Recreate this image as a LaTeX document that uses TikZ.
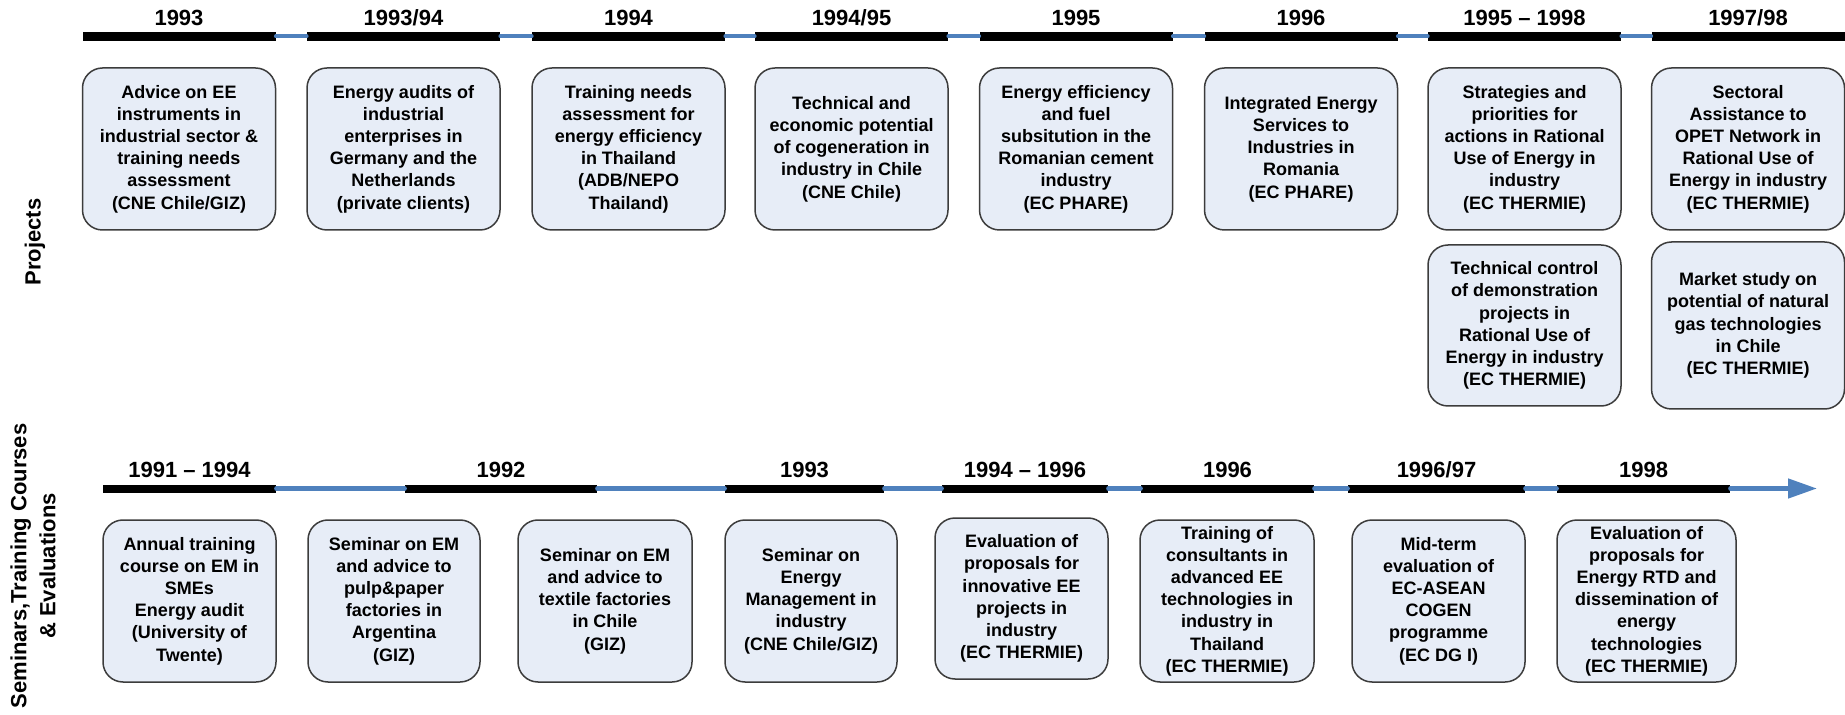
\documentclass[tikz,border=0pt]{standalone}
\usepackage{fontspec}
\setmainfont{Liberation Sans}
\usetikzlibrary{arrows.meta}
\definecolor{boxfill}{RGB}{231,237,247}
\definecolor{boxline}{RGB}{60,60,60}
\definecolor{connblue}{RGB}{79,129,189}
\newcommand\bxfont{\fontsize{9}{11.1}\selectfont\bfseries}
\newcommand\yrfont{\fontsize{11}{13}\selectfont\bfseries}
\newcommand\sidefont{\fontsize{11}{14.5}\selectfont\bfseries}
\tikzset{
  box/.style n args={2}{draw=boxline, fill=boxfill, rounded corners=10pt, line width=0.75pt,
     align=center, inner sep=0pt, font=\bxfont, minimum width=#1, minimum height=#2},
  tseg/.style={fill=black, inner sep=0pt, minimum height=4.5pt, minimum width=#1},
  bseg/.style={fill=black, inner sep=0pt, minimum height=4pt, minimum width=#1},
  yr/.style={font=\yrfont, anchor=base, inner sep=0pt},
  tconn/.style={draw=connblue, line width=2pt, line cap=round},
  bconn/.style={draw=connblue, line width=2.25pt, line cap=round},
  side/.style={font=\sidefont, rotate=90, align=center, inner sep=0pt},
}
\begin{document}
\begin{tikzpicture}[x=0.5pt, y=-0.5pt]
\useasboundingbox (0,0) rectangle (1845,715);
\fill[white] (0,0) rectangle (1845,715);

% side labels
\node[side] (lproj) at (35,242) {Projects};
\node[side] (lsem) at (33,566) {Seminars,Training Courses\\\& Evaluations};

% ---------- top timeline ----------
\node[tseg=96.5pt] (t1) at (179,36.5) {};
\node[tseg=96.5pt] (t2) at (403.5,36.5) {};
\node[tseg=96.5pt] (t3) at (628.5,36.5) {};
\node[tseg=96.5pt] (t4) at (851.5,36.5) {};
\node[tseg=96.5pt] (t5) at (1076,36.5) {};
\node[tseg=96.5pt] (t6) at (1301,36.5) {};
\node[tseg=96.5pt] (t7) at (1524.5,36.5) {};
\node[tseg=96.5pt] (t8) at (1748,36.5) {};
\foreach \a/\b in {t1/t2,t2/t3,t3/t4,t4/t5,t5/t6,t6/t7,t7/t8}
  \draw[tconn] (\a.east) -- (\b.west);

\node[yr] (ty1) at (179,26) {1993};
\node[yr] (ty2) at (403.5,26) {1993/94};
\node[yr] (ty3) at (628.5,26) {1994};
\node[yr] (ty4) at (851.5,26) {1994/95};
\node[yr] (ty5) at (1076,26) {1995};
\node[yr] (ty6) at (1301,26) {1996};
\node[yr] (ty7) at (1524.5,26) {1995 -- 1998};
\node[yr] (ty8) at (1748,26) {1997/98};

% top boxes
\node[box={96.5pt}{81pt}] (p1) at (179,149) {Advice on EE\\instruments in\\industrial sector \&\\training needs\\assessment\\(CNE Chile/GIZ)};
\node[box={96.5pt}{81pt}] (p2) at (403.5,149) {Energy audits of\\industrial\\enterprises in\\Germany and the\\Netherlands\\(private clients)};
\node[box={96.5pt}{81pt}] (p3) at (628.5,149) {Training needs\\assessment for\\energy efficiency\\in Thailand\\(ADB/NEPO\\Thailand)};
\node[box={96.5pt}{81pt}] (p4) at (851.5,149) {Technical and\\economic potential\\of cogeneration in\\industry in Chile\\(CNE Chile)};
\node[box={96.5pt}{81pt}] (p5) at (1076,149) {Energy efficiency\\and fuel\\subsitution in the\\Romanian cement\\industry\\(EC PHARE)};
\node[box={96.5pt}{81pt}] (p6) at (1301,149) {Integrated Energy\\Services to\\Industries in\\Romania\\(EC PHARE)};
\node[box={96.5pt}{81pt}] (p7) at (1524.5,149) {Strategies and\\priorities for\\actions in Rational\\Use of Energy in\\industry\\(EC THERMIE)};
\node[box={96.5pt}{81pt}] (p8) at (1748,149) {Sectoral\\Assistance to\\OPET Network in\\Rational Use of\\Energy in industry\\(EC THERMIE)};
\node[box={96.5pt}{80.5pt}] (p7b) at (1524.5,325.5) {Technical control\\of demonstration\\projects in\\Rational Use of\\Energy in industry\\(EC THERMIE)};
\node[box={96.5pt}{83.5pt}] (p8b) at (1748,325.5) {Market study on\\potential of natural\\gas technologies\\in Chile\\(EC THERMIE)};

% ---------- bottom timeline ----------
\node[bseg=86.5pt] (b1) at (189.5,488.5) {};
\node[bseg=96pt] (b2) at (501,488.5) {};
\node[bseg=79.5pt] (b3) at (804.5,488.5) {};
\node[bseg=83pt] (b4) at (1025,488.5) {};
\node[bseg=86.5pt] (b5) at (1227.5,488.5) {};
\node[bseg=88.5pt] (b6) at (1436.5,488.5) {};
\node[bseg=86.5pt] (b7) at (1643.5,488.5) {};
\coordinate (bend) at (1817,488.5);
\foreach \a/\b in {b1/b2,b2/b3,b3/b4,b4/b5,b5/b6,b6/b7}
  \draw[bconn] (\a.east) -- (\b.west);
\draw[bconn, -{Triangle[length=14.5pt,width=9.5pt]}] (b7.east) -- (bend);

\node[yr] (by1) at (189.5,478) {1991 -- 1994};
\node[yr] (by2) at (501,478) {1992};
\node[yr] (by3) at (804.5,478) {1993};
\node[yr] (by4) at (1025,478) {1994 -- 1996};
\node[yr] (by5) at (1227.5,478) {1996};
\node[yr] (by6) at (1436.5,478) {1996/97};
\node[yr] (by7) at (1643.5,478) {1998};

% bottom boxes
\node[box={86.5pt}{81pt}] (s1) at (189.5,601) {Annual training\\course on EM in\\SMEs\\Energy audit\\(University of\\Twente)};
\node[box={86pt}{81pt}] (s2) at (394,601) {Seminar on EM\\and advice to\\pulp\&paper\\factories in\\Argentina\\(GIZ)};
\node[box={87pt}{81pt}] (s3) at (605,601) {Seminar on EM\\and advice to\\textile factories\\in Chile\\(GIZ)};
\node[box={86pt}{81pt}] (s4) at (811,601) {Seminar on\\Energy\\Management in\\industry\\(CNE Chile/GIZ)};
\node[box={86.5pt}{80.5pt}] (s5) at (1021.5,598.5) {Evaluation of\\proposals for\\innovative EE\\projects in\\industry\\(EC THERMIE)};
\node[box={87pt}{81pt}] (s6) at (1227,601) {Training of\\consultants in\\advanced EE\\technologies in\\industry in\\Thailand\\(EC THERMIE)};
\node[box={86.5pt}{81pt}] (s7) at (1438.5,601) {Mid-term\\evaluation of\\EC-ASEAN\\COGEN\\programme\\(EC DG I)};
\node[box={89.5pt}{81pt}] (s8) at (1646.5,601) {Evaluation of\\proposals for\\Energy RTD and\\dissemination of\\energy\\technologies\\(EC THERMIE)};
\end{tikzpicture}
\end{document}
